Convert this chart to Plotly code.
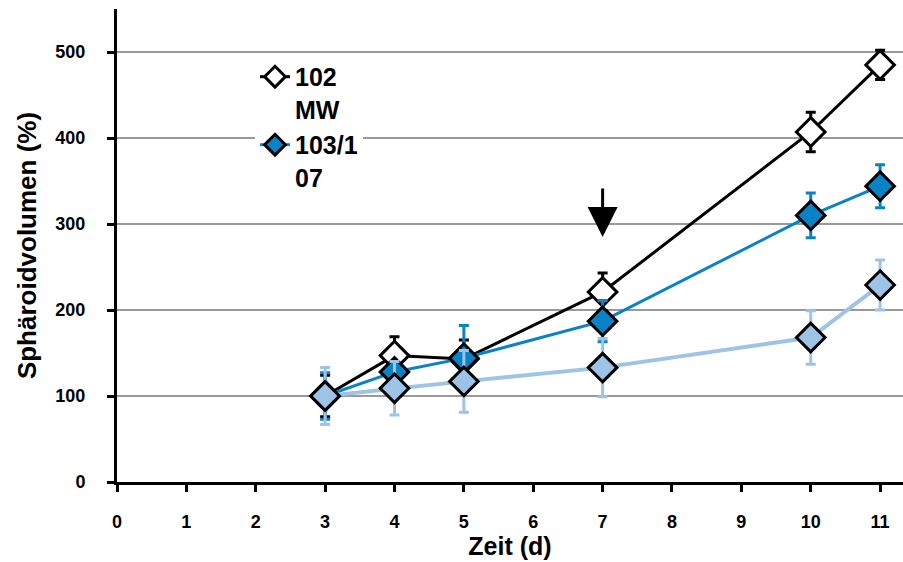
import plotly.graph_objects as go

days = [3, 4, 5, 7, 10, 11]

mw_name = "102<br>MW"
mw_vals = [100, 147, 143, 221, 407, 485]
mw_err = [24, 22, 22, 22, 23, 17]

tr_name = "103/1<br>07"
tr_vals = [100, 128, 144, 187, 310, 344]
tr_err = [27, 10, 38, 24, 26, 25]

lb_name = "Kontrolle"
lb_vals = [100, 109, 117, 133, 168, 229]
lb_err = [33, 31, 36, 34, 31, 29]

x_ticks = list(range(0, 12))
y_ticks = [0, 100, 200, 300, 400, 500]

FONT = "Liberation Sans, Arial, sans-serif"

BLACK = "#000000"
BLUE = "#0A83C6"
LIGHT = "#9DC3E6"


def series(x, y, err, name, line_color, fill, show, lw):
    return go.Scatter(
        x=x, y=y, name=name, mode="lines+markers", showlegend=show,
        line=dict(color=line_color, width=lw),
        marker=dict(symbol="diamond", size=22, color=fill,
                    line=dict(color=BLACK, width=3)),
        error_y=dict(type="data", array=err, visible=True,
                     color=line_color, thickness=3, width=5),
    )


fig = go.Figure()
fig.add_trace(series(days, mw_vals, mw_err, mw_name, BLACK, "#FFFFFF", True, 3))
fig.add_trace(series(days, tr_vals, tr_err, tr_name, BLUE, BLUE, True, 3))
fig.add_trace(series(days, lb_vals, lb_err, lb_name, LIGHT, LIGHT, False, 4))

fig.add_annotation(
    x=7, y=285, ax=7, ay=343, xref="x", yref="y", axref="x", ayref="y",
    text="", showarrow=True, arrowhead=2, arrowsize=2.0, arrowwidth=3,
    arrowcolor=BLACK,
)

fig.update_layout(
    width=903, height=562,
    margin=dict(l=117, r=0, t=9, b=80),
    paper_bgcolor="white", plot_bgcolor="white",
    font=dict(family=FONT, color=BLACK, size=18),
    legend=dict(
        x=0.1756, y=0.905, xanchor="left", yanchor="top",
        bgcolor="white", borderwidth=0, valign="top",
        font=dict(family=FONT, size=25, color=BLACK, weight="bold"),
    ),
    xaxis=dict(
        range=[0, 11.33], tickmode="array", tickvals=x_ticks,
        ticktext=[str(v) for v in x_ticks],
        showgrid=False, zeroline=False,
        showline=True, linecolor=BLACK, linewidth=3,
        ticks="outside", ticklen=7, tickwidth=3, tickcolor=BLACK,
        ticklabelstandoff=14,
        tickfont=dict(family=FONT, size=18, weight="bold"),
        title=dict(text="Zeit (d)", font=dict(family=FONT, size=25, weight="bold"),
                   standoff=6),
    ),
    yaxis=dict(
        range=[0, 550], tickmode="array", tickvals=y_ticks,
        ticktext=[str(v) for v in y_ticks],
        showgrid=True, gridcolor="#9A9A9A", gridwidth=2, zeroline=False,
        showline=True, linecolor=BLACK, linewidth=3,
        ticks="outside", ticklen=7, tickwidth=3, tickcolor=BLACK,
        ticklabelstandoff=18,
        tickfont=dict(family=FONT, size=18, weight="bold"),
        title=dict(text="Sphäroidvolumen (%)",
                   font=dict(family=FONT, size=26, weight="bold"), standoff=12),
    ),
)

fig.write_html("out.html")
